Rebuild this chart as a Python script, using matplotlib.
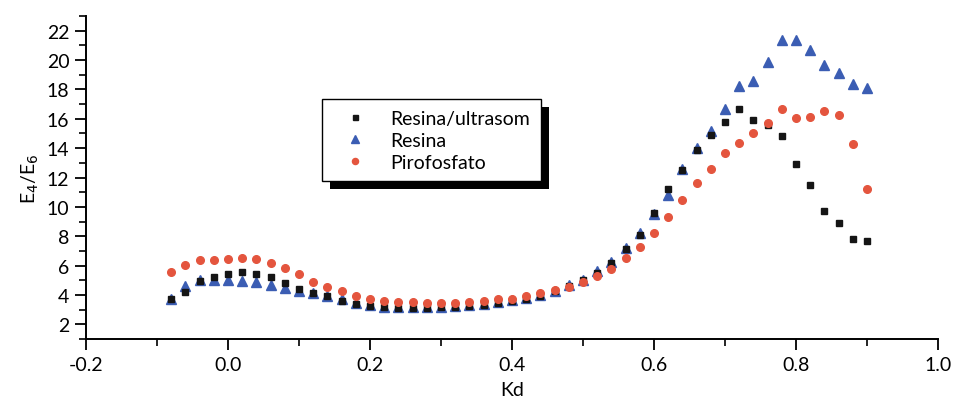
import matplotlib
matplotlib.use("Agg")
import matplotlib.pyplot as plt
from matplotlib.patches import Rectangle
from matplotlib.ticker import MultipleLocator

# Kd values (x) shared by the three series
kd = [-0.08, -0.06, -0.04, -0.02, 0.00, 0.02, 0.04, 0.06, 0.08, 0.10,
      0.12, 0.14, 0.16, 0.18, 0.20, 0.22, 0.24, 0.26, 0.28, 0.30,
      0.32, 0.34, 0.36, 0.38, 0.40, 0.42, 0.44, 0.46, 0.48, 0.50,
      0.52, 0.54, 0.56, 0.58, 0.60, 0.62, 0.64, 0.66, 0.68, 0.70,
      0.72, 0.74, 0.76, 0.78, 0.80, 0.82, 0.84, 0.86, 0.88, 0.90]

resina_ultrasom = [3.70, 4.20, 4.95, 5.25, 5.45, 5.55, 5.45, 5.20, 4.80, 4.40,
                   4.10, 3.90, 3.60, 3.40, 3.25, 3.15, 3.10, 3.10, 3.10, 3.15,
                   3.20, 3.25, 3.35, 3.45, 3.60, 3.75, 3.95, 4.25, 4.60, 5.00,
                   5.50, 6.20, 7.10, 8.10, 9.60, 11.25, 12.50, 13.90, 14.90, 15.75,
                   16.65, 15.95, 15.60, 14.85, 12.95, 11.50, 9.75, 8.90, 7.80, 7.65]

resina = [3.75, 4.60, 5.00, 5.05, 5.00, 4.95, 4.90, 4.70, 4.50, 4.25,
          4.15, 3.95, 3.70, 3.45, 3.30, 3.20, 3.15, 3.15, 3.15, 3.20,
          3.25, 3.30, 3.40, 3.50, 3.65, 3.80, 4.00, 4.30, 4.70, 5.05,
          5.60, 6.27, 7.20, 8.20, 9.50, 10.80, 12.55, 14.00, 15.20, 16.70,
          18.20, 18.55, 19.90, 21.40, 21.40, 20.70, 19.65, 19.15, 18.40, 18.10]

pirofosfato = [5.55, 6.05, 6.35, 6.40, 6.45, 6.50, 6.45, 6.20, 5.85, 5.40,
               4.90, 4.55, 4.30, 3.95, 3.75, 3.60, 3.50, 3.50, 3.45, 3.45,
               3.45, 3.50, 3.60, 3.70, 3.75, 3.90, 4.10, 4.35, 4.55, 4.88,
               5.30, 5.80, 6.50, 7.30, 8.20, 9.30, 10.45, 11.60, 12.60, 13.70,
               14.35, 15.00, 15.70, 16.70, 16.05, 16.10, 16.50, 16.25, 14.30, 11.20]

black = "#151515"
blue = "#3b5db3"
red = "#e4553e"

plt.rcParams.update({
    "font.family": ["Lato", "DejaVu Sans"],
    "font.size": 14,
    "axes.linewidth": 1.4,
})

fig = plt.figure(figsize=(9.58, 4.10), dpi=100)
ax = fig.add_axes([0.0898, 0.1707, 0.8894, 0.7878])

h_blue, = ax.plot(kd, resina, ls="none", marker="^", ms=6.5, color=blue,
                  mec=blue, label="Resina", zorder=3)
h_black, = ax.plot(kd, resina_ultrasom, ls="none", marker="s", ms=4.5,
                   color=black, mec=black, label="Resina/ultrasom", zorder=3.1)
h_red, = ax.plot(kd, pirofosfato, ls="none", marker="o", ms=5.5, color=red,
                 mec=red, label="Pirofosfato", zorder=3.2)

ax.set_xlim(-0.2, 1.0)
ax.set_ylim(1, 23)
ax.xaxis.set_major_locator(MultipleLocator(0.2))
ax.xaxis.set_minor_locator(MultipleLocator(0.1))
ax.yaxis.set_major_locator(MultipleLocator(2))
ax.yaxis.set_minor_locator(MultipleLocator(1))
ax.set_xticks([-0.2, 0.0, 0.2, 0.4, 0.6, 0.8, 1.0])
ax.set_xticklabels(["-0.2", "0.0", "0.2", "0.4", "0.6", "0.8", "1.0"])
ax.set_yticks(range(2, 23, 2))

for side in ("top", "right"):
    ax.spines[side].set_visible(False)

ax.tick_params(which="major", direction="out", length=8, width=1.3, pad=4)
ax.tick_params(which="minor", direction="out", length=5, width=1.2)

ax.set_xlabel("Kd", labelpad=6)
ax.set_ylabel("E$_4$/E$_6$", labelpad=4)

leg = ax.legend(handles=[h_black, h_blue, h_red], loc="upper left",
                bbox_to_anchor=(0.277, 0.742), borderaxespad=0,
                fancybox=False, framealpha=1, edgecolor="black",
                handlelength=2.3, handletextpad=0.65, borderpad=0.55,
                labelspacing=0.25, fontsize=14, markerscale=0.8)
leg.get_frame().set_linewidth(1.0)

# solid black drop shadow behind the legend box
fig.canvas.draw()
bb = leg.get_window_extent().transformed(fig.transFigure.inverted())
dx, dy = 8 / 958, 8 / 410
ax.add_patch(Rectangle((bb.x0 + dx, bb.y0 - dy), bb.width, bb.height,
                       transform=fig.transFigure, facecolor="black",
                       edgecolor="none", zorder=4.5, clip_on=False))

fig.savefig("out.png", dpi=100)
